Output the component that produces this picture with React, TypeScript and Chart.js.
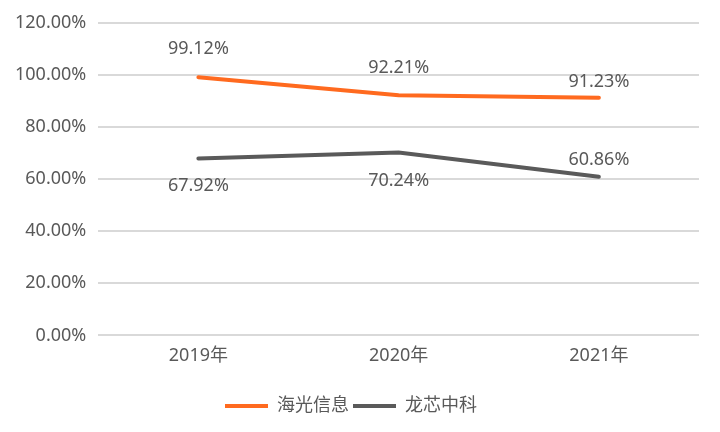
import React, { useEffect, useRef } from "react";
import { Chart, registerables } from "chart.js";

Chart.register(...registerables);

const categories = ["2019年", "2020年", "2021年"];
const seriesNames = ["海光信息", "龙芯中科"];
const haiguang = [99.12, 92.21, 91.23];
const loongson = [67.92, 70.24, 60.86];
const yTicks = [0, 20, 40, 60, 80, 100, 120];

const FONT = "'Noto Sans', 'Noto Sans CJK SC', sans-serif";
const TEXT = "#595959";
const FS = 18;

const labelPlugin = {
  id: "pointLabels",
  afterDatasetsDraw(chart: any, _args: any, opts: any) {
    const ctx = chart.ctx;
    ctx.save();
    ctx.font = `${FS}px ${FONT}`;
    ctx.fillStyle = TEXT;
    ctx.textAlign = "center";
    ctx.textBaseline = "middle";
    chart.data.datasets.forEach((ds: any, di: number) => {
      const meta = chart.getDatasetMeta(di);
      const offs = opts.offsets[di];
      meta.data.forEach((pt: any, i: number) => {
        const v = ds.data[i];
        ctx.fillText(v.toFixed(2) + "%", pt.x, pt.y + offs[i]);
      });
    });
    ctx.restore();
  },
};

export default function App() {
  const ref = useRef<HTMLCanvasElement>(null);
  useEffect(() => {
    document.body.style.margin = "0";
    const chart = new Chart(ref.current!, {
      type: "line",
      data: {
        labels: categories,
        datasets: [
          {
            label: seriesNames[0],
            data: haiguang,
            borderColor: "#FF6A1F",
            backgroundColor: "#FF6A1F",
            borderWidth: 4,
            borderCapStyle: "round",
            pointRadius: 0,
            tension: 0,
          },
          {
            label: seriesNames[1],
            data: loongson,
            borderColor: "#5A5A5A",
            backgroundColor: "#5A5A5A",
            borderWidth: 4,
            borderCapStyle: "round",
            pointRadius: 0,
            tension: 0,
          },
        ],
      },
      options: {
        animation: false,
        responsive: false,
        layout: { padding: { left: 3, right: 21, top: 14, bottom: 7 } },
        scales: {
          x: {
            offset: true,
            grid: { display: false, drawTicks: false },
            border: { display: false },
            ticks: { color: TEXT, font: { size: FS, family: FONT }, padding: 10 },
            afterFit: (axis: any) => {
              axis.height += 16;
            },
          },
          y: {
            min: 0,
            max: 120,
            afterBuildTicks: (axis: any) => {
              axis.ticks = yTicks.map((v) => ({ value: v }));
            },
            grid: { color: "#D9D9D9", lineWidth: 2, drawTicks: false },
            border: { display: false },
            ticks: {
              color: TEXT,
              font: { size: FS, family: FONT },
              padding: 12,
              callback: (v: any) => Number(v).toFixed(2) + "%",
            },
          },
        },
        plugins: {
          legend: {
            position: "bottom",
            labels: {
              color: TEXT,
              font: { size: FS, family: FONT },
              usePointStyle: true,
              pointStyle: "line",
              pointStyleWidth: 43,
              boxHeight: 5,
              padding: 4,
            },
          },
          tooltip: { enabled: false },
          pointLabels: {
            offsets: [
              [-28, -27, -16],
              [27, 28, -17],
            ],
          },
        } as any,
      },
      plugins: [labelPlugin],
    });
    return () => chart.destroy();
  }, []);
  return (
    <div style={{ width: 720, height: 432, background: "#fff" }}>
      <canvas ref={ref} width={720} height={432} />
    </div>
  );
}
